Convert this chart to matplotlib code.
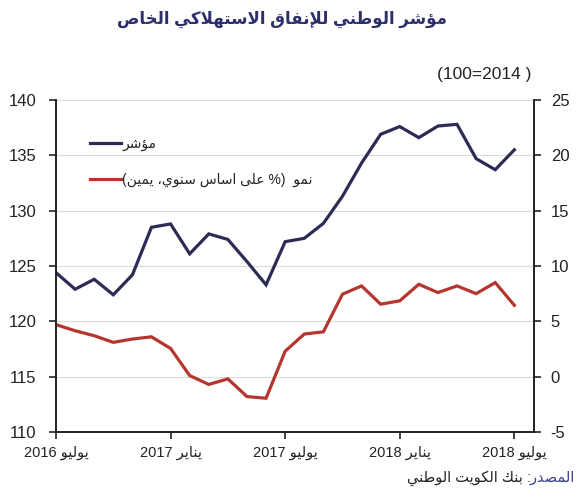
import re
import numpy as np
import matplotlib
matplotlib.use("Agg")
import matplotlib.pyplot as plt

plt.rcParams['font.family'] = ['Liberation Sans', 'DejaVu Sans']
plt.rcParams['axes.unicode_minus'] = False

# ---------------- data ----------------
title_text = "مؤشر الوطني للإنفاق الاستهلاكي الخاص"
base_text = "(100=2014 )"
series_index_name = "مؤشر"
series_growth_name = "نمو  (% على اساس سنوي، يمين)"
source_label = "المصدر:"
source_text = "بنك الكويت الوطني"

tick_positions = [0, 6, 12, 18, 24]
tick_labels = ["يوليو 2016", "يناير 2017", "يوليو 2017", "يناير 2018", "يوليو 2018"]

index_values = [124.4, 122.9, 123.8, 122.4, 124.2, 128.5, 128.8, 126.1, 127.9, 127.4,
                125.4, 123.3, 127.2, 127.5, 128.85, 131.3, 134.3, 136.9, 137.6, 136.6,
                137.65, 137.8, 134.7, 133.7, 135.5]
growth_values = [4.7, 4.15, 3.7, 3.1, 3.4, 3.6, 2.55, 0.1, -0.7, -0.2,
                 -1.8, -1.95, 2.3, 3.85, 4.05, 7.45, 8.2, 6.55, 6.85, 8.35,
                 7.6, 8.2, 7.5, 8.5, 6.45]

# ---------------- minimal Arabic shaping + bidi ----------------
_F = {
    'ء': (0xFE80, None, None, None), 'آ': (0xFE81, 0xFE82, None, None),
    'أ': (0xFE83, 0xFE84, None, None), 'ؤ': (0xFE85, 0xFE86, None, None),
    'إ': (0xFE87, 0xFE88, None, None), 'ئ': (0xFE89, 0xFE8A, 0xFE8B, 0xFE8C),
    'ا': (0xFE8D, 0xFE8E, None, None), 'ب': (0xFE8F, 0xFE90, 0xFE91, 0xFE92),
    'ة': (0xFE93, 0xFE94, None, None), 'ت': (0xFE95, 0xFE96, 0xFE97, 0xFE98),
    'ث': (0xFE99, 0xFE9A, 0xFE9B, 0xFE9C), 'ج': (0xFE9D, 0xFE9E, 0xFE9F, 0xFEA0),
    'ح': (0xFEA1, 0xFEA2, 0xFEA3, 0xFEA4), 'خ': (0xFEA5, 0xFEA6, 0xFEA7, 0xFEA8),
    'د': (0xFEA9, 0xFEAA, None, None), 'ذ': (0xFEAB, 0xFEAC, None, None),
    'ر': (0xFEAD, 0xFEAE, None, None), 'ز': (0xFEAF, 0xFEB0, None, None),
    'س': (0xFEB1, 0xFEB2, 0xFEB3, 0xFEB4), 'ش': (0xFEB5, 0xFEB6, 0xFEB7, 0xFEB8),
    'ص': (0xFEB9, 0xFEBA, 0xFEBB, 0xFEBC), 'ض': (0xFEBD, 0xFEBE, 0xFEBF, 0xFEC0),
    'ط': (0xFEC1, 0xFEC2, 0xFEC3, 0xFEC4), 'ظ': (0xFEC5, 0xFEC6, 0xFEC7, 0xFEC8),
    'ع': (0xFEC9, 0xFECA, 0xFECB, 0xFECC), 'غ': (0xFECD, 0xFECE, 0xFECF, 0xFED0),
    'ف': (0xFED1, 0xFED2, 0xFED3, 0xFED4), 'ق': (0xFED5, 0xFED6, 0xFED7, 0xFED8),
    'ك': (0xFED9, 0xFEDA, 0xFEDB, 0xFEDC), 'ل': (0xFEDD, 0xFEDE, 0xFEDF, 0xFEE0),
    'م': (0xFEE1, 0xFEE2, 0xFEE3, 0xFEE4), 'ن': (0xFEE5, 0xFEE6, 0xFEE7, 0xFEE8),
    'ه': (0xFEE9, 0xFEEA, 0xFEEB, 0xFEEC), 'و': (0xFEED, 0xFEEE, None, None),
    'ى': (0xFEEF, 0xFEF0, None, None), 'ي': (0xFEF1, 0xFEF2, 0xFEF3, 0xFEF4),
}
_LA = {'آ': (0xFEF5, 0xFEF6), 'أ': (0xFEF7, 0xFEF8), 'إ': (0xFEF9, 0xFEFA), 'ا': (0xFEFB, 0xFEFC)}


def _shape(t):
    out, i, n = [], 0, len(t)
    while i < n:
        c = t[i]
        if c not in _F:
            out.append(c); i += 1; continue
        p = t[i - 1] if i > 0 else None
        cp = p in _F and _F[p][2] is not None and _F[c][1] is not None
        if c == 'ل' and i + 1 < n and t[i + 1] in _LA:
            lig = _LA[t[i + 1]]
            out.append(chr(lig[1] if cp else lig[0])); i += 2; continue
        nx = t[i + 1] if i + 1 < n else None
        cn = _F[c][2] is not None and nx in _F
        iso, fin, ini, med = _F[c]
        if cp and cn:
            out.append(chr(med))
        elif cp:
            out.append(chr(fin))
        elif cn:
            out.append(chr(ini))
        else:
            out.append(chr(iso))
        i += 1
    return ''.join(out)


_MIR = {'(': ')', ')': '(', '[': ']', ']': '['}


def ar(t):
    s = _shape(t)
    toks = re.findall(r'[0-9A-Za-z][0-9A-Za-z=.]*|[^0-9A-Za-z]+', s)
    vis = []
    for tk in reversed(toks):
        if re.match(r'[0-9A-Za-z]', tk):
            vis.append(tk)
        else:
            vis.append(''.join(_MIR.get(ch, ch) for ch in reversed(tk)))
    return ''.join(vis)


# ---------------- plot ----------------
W, H = 582, 500
fig = plt.figure(figsize=(W / 100, H / 100), dpi=100)
ax = fig.add_axes([56 / W, 1 - 432 / H, (534 - 56) / W, (432 - 100) / H])
ax2 = ax.twinx()

navy = '#2c2b55'
red = '#b5352f'
x = np.arange(len(index_values))

l1, = ax.plot(x, index_values, color=navy, lw=2.3, solid_joinstyle='miter',
              label=ar(series_index_name))
l2, = ax2.plot(x, growth_values, color=red, lw=2.3, solid_joinstyle='miter',
               label=ar(series_growth_name))

ax.set_xlim(0, 25.03)
ax.set_ylim(110, 140)
ax2.set_ylim(-5, 25)
ax.set_yticks(np.arange(110, 141, 5))
ax2.set_yticks(np.arange(-5, 26, 5))
ax.set_xticks(tick_positions)
ax.set_xticklabels([ar(t) for t in tick_labels])

ax.grid(axis='y', color='#dcdcdc', lw=0.8)
ax.set_axisbelow(True)

for a in (ax, ax2):
    a.spines['top'].set_visible(False)
    for s in ('left', 'right', 'bottom'):
        a.spines[s].set_color('#222222')
        a.spines[s].set_linewidth(1.2)
ax.tick_params(axis='y', direction='out', length=5, width=1.2, pad=9,
               labelsize=12, colors='#222222')
ax2.tick_params(axis='y', direction='out', length=5, width=1.2, pad=7,
                labelsize=12, colors='#222222')
ax.tick_params(axis='x', direction='out', length=5, width=1.2, pad=5,
               labelsize=10.5, colors='#222222')

leg = ax2.legend(handles=[l1, l2], loc='upper left', bbox_to_anchor=(0.06, 0.905),
                 frameon=False, fontsize=10, handlelength=2.2, handletextpad=0.1,
                 labelspacing=1.55, borderaxespad=0)
for t in leg.get_texts():
    t.set_color('#222222')

fig.text(282 / W, 1 - 19 / H, ar(title_text), ha='center', va='center',
         fontsize=12, fontweight='bold', color='#2d2f6b')
fig.text(484 / W, 1 - 75 / H, base_text, ha='center', va='center',
         fontsize=12.5, color='#222222')
t_src = fig.text(575 / W, 1 - 478 / H, ar(source_label), ha='right', va='center',
                 fontsize=10.5, color='#3b3f8f')
fig.canvas.draw()
bb = t_src.get_window_extent()
fig.text((bb.x0 - 4) / W, 1 - 478 / H, ar(source_text), ha='right', va='center',
         fontsize=10.5, color='#222222')

fig.savefig('out.png', dpi=100)
